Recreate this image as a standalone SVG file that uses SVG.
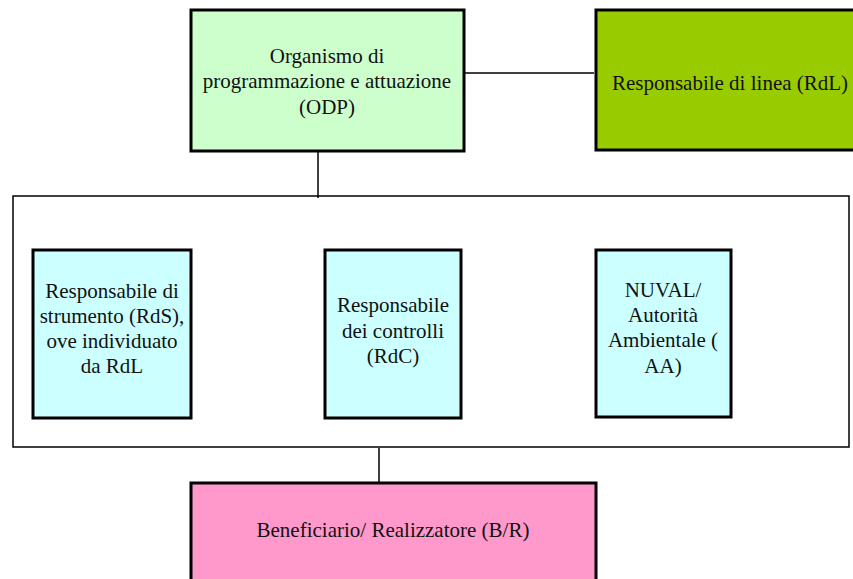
<svg xmlns="http://www.w3.org/2000/svg" width="853" height="579" viewBox="0 0 853 579">
<style>
.box{stroke:#000;stroke-width:3}
.t{font-family:"Liberation Serif","Times New Roman",serif;font-size:21px;fill:#111;text-anchor:middle}
.c{stroke:#000;stroke-width:1.5;fill:none}
</style>
<rect x="0" y="0" width="853" height="579" fill="#fff"/>
<g id="connectors">
<line class="c" x1="465" y1="73" x2="594" y2="73"/>
<line class="c" x1="318" y1="152" x2="318" y2="198"/>
<line class="c" x1="379" y1="448" x2="379" y2="482"/>
</g>
<g id="container">
<rect x="13" y="196" width="836" height="251" fill="none" stroke="#000" stroke-width="1.5"/>
</g>
<g id="odp">
<rect class="box" x="191" y="10" width="273" height="141" fill="#CCFFCC"/>
<text class="t" x="327" y="63">Organismo di</text>
<text class="t" x="327" y="88">programmazione e attuazione</text>
<text class="t" x="327" y="114">(ODP)</text>
</g>
<g id="rdl">
<rect class="box" x="596" y="10" width="270" height="140" fill="#99CC00"/>
<text class="t" x="730" y="90">Responsabile di linea (RdL)</text>
</g>
<g id="rds">
<rect class="box" x="33" y="250" width="158" height="168" fill="#CCFFFF"/>
<text class="t" x="112" y="298">Responsabile di</text>
<text class="t" x="112" y="323">strumento (RdS),</text>
<text class="t" x="112" y="348">ove individuato</text>
<text class="t" x="112" y="373">da RdL</text>
</g>
<g id="rdc">
<rect class="box" x="325" y="250" width="136" height="168" fill="#CCFFFF"/>
<text class="t" x="393" y="312">Responsabile</text>
<text class="t" x="393" y="338">dei controlli</text>
<text class="t" x="393" y="363">(RdC)</text>
</g>
<g id="nuval">
<rect class="box" x="596" y="250" width="135" height="167" fill="#CCFFFF"/>
<text class="t" x="663" y="297">NUVAL/</text>
<text class="t" x="663" y="322">Autorità</text>
<text class="t" x="663" y="347">Ambientale (</text>
<text class="t" x="663" y="373">AA)</text>
</g>
<g id="br">
<rect class="box" x="191" y="483" width="405" height="110" fill="#FF99CC"/>
<text class="t" x="393" y="537">Beneficiario/ Realizzatore (B/R)</text>
</g>
</svg>
